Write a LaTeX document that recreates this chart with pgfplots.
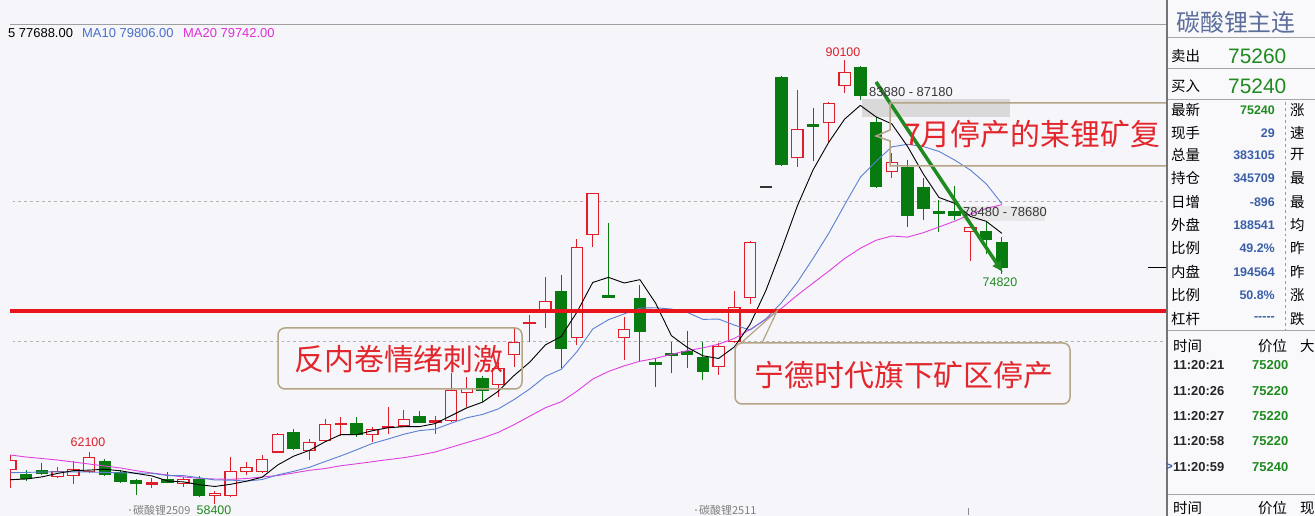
\documentclass[border=0pt]{standalone}
\usepackage{fontspec}
\setmainfont{Liberation Sans}
\newfontfamily\cjk{Noto Sans CJK SC}
\usepackage{pgfplots}
\pgfplotsset{compat=1.18}
\usepackage{pgfplotstable}
\usetikzlibrary{arrows.meta}

\definecolor{bg}{HTML}{F5F5FA}
\definecolor{cred}{HTML}{DE1E28}
\definecolor{cgreen}{HTML}{077A10}
\definecolor{mablue}{HTML}{5B7FD1}
\definecolor{mamag}{HTML}{E040E0}
\definecolor{hblue}{HTML}{4A70C8}
\definecolor{hmag}{HTML}{E02ED8}
\definecolor{redline}{HTML}{E8141C}
\definecolor{arrowg}{HTML}{1F8A1F}
\definecolor{boxc}{HTML}{B3A585}
\definecolor{annred}{HTML}{E3262B}
\definecolor{numblue}{HTML}{3A5FA8}
\definecolor{pgreen}{HTML}{1F8A1F}
\definecolor{ttl}{HTML}{5C6E9C}
\newcommand\fs[1]{\fontsize{#1}{#1}\selectfont}

% candles: i open high low close
\pgfplotstableread{
i o h l c
0 60793 61864 59508 61507
3 60315 61029 60200 60743
4 60386 61436 59793 60843
5 60672 62100 60579 61700
11 59772 60315 59601 60129
13 58937 59294 58400 59172
14 58958 61700 58901 60743
15 60672 61386 60436 60986
16 60672 61864 60579 61557
17 62029 63400 62000 63342
19 62171 63007 61507 62814
20 62864 64413 62793 64057
23 63292 63886 62814 63700
25 63886 65057 63828 64413
28 64313 67719 64255 66505
29 66270 67455 65300 66670
31 66862 68525 66026 68054
32 69004 71026 68169 69954
34 71981 74595 70911 72882
36 70196 77265 69718 76737
37 77574 80571 76737 80550
39 70196 71740 68647 70861
45 68169 69861 67576 69669
46 69911 73595 69861 72410
47 73052 77144 72645 77094
50 83048 87925 82449 85119
52 85590 87090 84234 86975
53 88211 90100 87732 89232
56 82049 83405 81621 82805
61 77807 78179 75737 78122
}\redhollow
\pgfplotstableread{
i o h l c
9 59722 60222 59508 59958
21 64001 64599 63221 64141
24 63770 65256 63364 63910
27 64172 64649 63364 64363
33 71196 71860 69954 71336
}\redsolid
\pgfplotstableread{
i o h l c
1 60486 60793 59988 60129
2 60793 61315 60436 60507
6 61436 61579 60365 60436
7 60672 60793 59865 59958
8 60079 60151 59008 59793
10 60151 60672 59830 59887
12 60129 60365 58865 58937
18 63527 63720 62200 62271
22 64122 64577 63150 63292
26 64649 65006 64114 64172
30 67340 67505 65670 66455
35 73595 74716 68054 69432
38 73300 78450 73090 73090
40 73052 74002 68525 70624
41 68525 68790 66741 68290
42 69150 69954 67698 68950
43 69311 70740 68054 69004
44 68883 69954 67219 67812
49 88832 88900 82500 82570
51 85497 86618 82877 85305
54 89589 89650 87211 87497
55 85662 86019 80950 81021
57 82449 82927 78165 78950
58 81021 81621 78643 79407
59 79286 80071 77807 79071
60 79307 81092 78643 78929
62 77858 78523 76209 77216
63 77051 77452 74820 75240
}\greens
\pgfplotstableread{
i m5 m10 m20
0 60100 60600 61864
1 60150 60620 61721
2 60300 60650 61614
3 60550 60660 61507
4 60746 60660 61364
5 60784 60650 61221
6 60846 60620 61079
7 60736 60590 60936
8 60546 60570 60743
9 60369 60557 60579
10 60006 60395 60436
11 59945 60395 60293
12 59741 60238 60200
13 59617 60081 60150
14 59774 60071 60129
15 59993 60000 60186
16 60279 60112 60293
17 61160 60450 60400
18 61780 60698 60580
19 62194 60984 60771
20 62808 61401 60898
21 63325 61800 61098
22 63311 62236 61237
23 63597 62688 61385
24 63811 63003 61537
25 63883 63345 61673
26 63893 63607 61859
27 64107 63709 62080
28 64668 64132 62415
29 65230 64521 62752
30 65638 64761 63081
31 66415 65154 63477
32 67533 65820 64028
33 68494 66581 64635
34 69731 67481 65242
35 70327 67983 65664
36 72063 69239 66423
37 74182 70858 67283
38 74549 71522 67827
39 74145 71938 68229
40 74383 72355 68558
41 72694 72379 68766
42 70385 72284 69052
43 69557 72053 69317
44 68947 71546 69513
45 68756 71570 69776
46 69580 71137 70188
47 71198 70791 70825
48 73601 71579 71550
49 76553 72750 72344
50 79643 74199 73277
51 82222 75901 74140
52 84198 77698 74991
53 85840 79721 75887
54 86826 81689 76618
55 86006 82825 77197
56 85506 83864 77500
57 83901 84050 77420
58 81936 83888 77734
59 80251 83538 78144
60 79832 82919 78559
61 78896 82201 79051
62 78549 81225 79462
63 77688 79806 79742
}\ma

\pgfplotsset{
  bar/.style 2 args={draw=none, mark=none, forget plot,
    error bars/.cd, y dir=plus, y explicit, error mark=none,
    error bar style={draw=#1, line width=#2, solid}},
}

\begin{document}
\begin{tikzpicture}[x=1bp,y=1bp]
\useasboundingbox (0,0) rectangle (1315,516);
\fill[bg] (0,0) rectangle (1315,516);

\begin{scope}[xshift=10bp]
\begin{axis}[
  at={(0bp,0bp)}, anchor=south west,
  width=1156bp, height=491bp, scale only axis,
  xmin=-0.02, xmax=73.42, ymin=57509, ymax=92566,
  hide axis, clip=true,
]
% range bands
\addplot[draw=none, fill=black!15, forget plot] coordinates
  {(54.11,85997) (63.51,85997) (63.51,87283) (54.11,87283)} -- cycle;
\addplot[draw=none, fill=black!9, forget plot] coordinates
  {(60.46,78572) (65.73,78572) (65.73,79643) (60.46,79643)} -- cycle;
% dashed grid
\addplot[black!30, dashed, line width=0.7bp, forget plot] coordinates {(-1,80000) (75,80000)};
\addplot[black!30, dashed, line width=0.7bp, forget plot] coordinates {(-1,70000) (75,70000)};

% wicks
\addplot[bar={cred}{1bp}] table[x=i, y=l, y error plus expr=\thisrow{h}-\thisrow{l}] {\redhollow};
\addplot[bar={cred}{1bp}] table[x=i, y=l, y error plus expr=\thisrow{h}-\thisrow{l}] {\redsolid};
\addplot[bar={cgreen}{1bp}] table[x=i, y=l, y error plus expr=\thisrow{h}-\thisrow{l}] {\greens};
% bodies
\addplot[bar={cgreen}{12.5bp}] table[x=i, y=c, y error plus expr=\thisrow{o}-\thisrow{c}] {\greens};
\addplot[bar={cred}{12.5bp}] table[x=i, y=o, y error plus expr=\thisrow{c}-\thisrow{o}] {\redsolid};
\addplot[bar={cred}{12.5bp}] table[x=i, y=o, y error plus expr=\thisrow{c}-\thisrow{o}] {\redhollow};
\addplot[bar={bg}{10bp}] table[x=i, y expr=\thisrow{o}+85, y error plus expr=\thisrow{c}-\thisrow{o}-170] {\redhollow};
% limit day, flat bar
\addplot[bar={black!80}{12.5bp}] coordinates {(48,80952) +- (0,140)};

% moving averages
\addplot[mamag, line width=0.9bp, line join=round] table[x=i, y=m20] {\ma};
\addplot[mablue, line width=0.9bp, line join=round] table[x=i, y=m10] {\ma};
\addplot[black, line width=0.9bp, line join=round] table[x=i, y=m5] {\ma};

% red level line
\addplot[redline, line width=4.5bp] coordinates {(-1,72150) (75,72150)};
% price marker
\addplot[black, line width=1bp] coordinates {(72.25,75240) (73.4,75240)};
% downtrend arrow
\addplot[arrowg, line width=3.5bp, -{Latex[length=11bp,width=11bp]}] coordinates {(55.0,88500) (63.05,74900)};
\end{axis}
\end{scope}

\begin{scope}[shift={(0,516)}, y=-1bp]
\draw[gray!75, line width=0.8bp] (10,24) -- (1166,24);
% value labels
\node[font=\fs{12.5}, text=cred, inner sep=0] at (843,52) {90100};
\node[font=\fs{12.5}, text=cred, inner sep=0] at (88,442) {62100};
\node[font=\fs{12.5}, text=pgreen, inner sep=0] at (214,510) {58400};
\node[font=\fs{12.5}, text=pgreen, inner sep=0] at (1000,282) {74820};
\node[font=\fs{13}, text=black!78, inner sep=0, anchor=west] at (869,92) {83880 - 87180};
\node[font=\fs{13}, text=black!78, inner sep=0, anchor=west] at (963,212) {78480 - 78680};
\node[font=\cjk\fs{11}, text=black!50, inner sep=0, anchor=west] at (133,510) {碳酸锂2509};
\node[font=\cjk\fs{11}, text=black!50, inner sep=0, anchor=west] at (699,510) {碳酸锂2511};
\fill[black!50] (130,510) circle (0.8);
\fill[black!50] (696,510) circle (0.8);
\draw[black!45, line width=0.8bp] (968,508) -- (968,515);

% header
\node[font=\fs{13}, inner sep=0, anchor=west] at (8,33) {5 77688.00};
\node[font=\fs{13}, text=hblue, inner sep=0, anchor=west] at (82,33) {MA10 79806.00};
\node[font=\fs{13}, text=hmag, inner sep=0, anchor=west] at (183,33) {MA20 79742.00};

% annotation boxes
\draw[boxc, line width=1.5bp, rounded corners=7bp] (278,328) rectangle (522,389);
\node[font=\cjk\fs{30}, text=annred, inner sep=0] at (399,359) {反内卷情绪刺激};
\draw[boxc, line width=1.5bp, rounded corners=7bp] (735,343) rectangle (1070,404);
\draw[boxc, line width=1.2bp] (741,343) -- (777,311) -- (762,343);
\node[font=\cjk\fs{30}, text=annred, inner sep=0] at (904,375) {宁德时代旗下矿区停产};
\draw[boxc, line width=1.5bp] (1175,103) -- (890,103) -- (890,130) -- (876,136) -- (890,141) -- (890,166) -- (1175,166);
\node[font=\cjk\fs{30}, text=annred, inner sep=0, anchor=west] at (904,134) {7月停产的某锂矿复};

% right panel
\fill[bg!60!white] (1166,0) rectangle (1315,516);
\draw[black!55, line width=1.8bp] (1167,0) -- (1167,516);
\node[font=\cjk\fs{24}, text=ttl, inner sep=0] at (1236,22) {碳酸锂主连};
\foreach \yy in {38,69,100,331,495} \draw[black!35, line width=1bp] (1168,\yy) -- (1315,\yy);
\node[font=\cjk\fs{14.5}, inner sep=0, anchor=west] at (1171,56) {卖出};
\node[font=\fs{21}, text=pgreen, inner sep=0, anchor=west] at (1228,56) {75260};
\node[font=\cjk\fs{14.5}, inner sep=0, anchor=west] at (1171,86) {买入};
\node[font=\fs{21}, text=pgreen, inner sep=0, anchor=west] at (1228,86) {75240};
\draw[black!40, dashed, line width=0.7bp] (1285,102) -- (1285,330);
\foreach \yy/\lab/\val/\rl in {
  133/现手/29/速, 155/总量/383105/开, 178/持仓/345709/最, 202/日增/-896/最,
  225/外盘/188541/均, 248/比例/49.2\%/昨, 272/内盘/194564/昨, 295/比例/50.8\%/涨}{
  \node[font=\cjk\fs{14.5}, inner sep=0, anchor=west] at (1171,\yy) {\lab};
  \node[font=\bfseries\fs{12.5}, text=numblue, inner sep=0, anchor=east] at (1275,\yy) {\val};
  \node[font=\cjk\fs{14.5}, inner sep=0, anchor=west] at (1290,\yy) {\rl};
}
\node[font=\cjk\fs{14.5}, inner sep=0, anchor=west] at (1171,319) {杠杆};
\node[font=\bfseries\fs{12.5}, text=numblue, inner sep=0, anchor=east] at (1275,319) {-{}-{}-{}-{}-};
\node[font=\cjk\fs{14.5}, inner sep=0, anchor=west] at (1290,319) {跌};
\node[font=\cjk\fs{14.5}, inner sep=0, anchor=west] at (1171,110) {最新};
\node[font=\bfseries\fs{12.5}, text=pgreen, inner sep=0, anchor=east] at (1275,110) {75240};
\node[font=\cjk\fs{14.5}, inner sep=0, anchor=west] at (1290,110) {涨};
\node[font=\cjk\fs{14.5}, inner sep=0, anchor=west] at (1173,346) {时间};
\node[font=\cjk\fs{14.5}, inner sep=0, anchor=west] at (1258,346) {价位};
\node[font=\cjk\fs{14.5}, inner sep=0, anchor=west] at (1300,346) {大};
\foreach \yy/\tm/\pr in {365/11:20:21/75200, 391/11:20:26/75220, 416/11:20:27/75220, 441/11:20:58/75220, 467/11:20:59/75240}{
  \node[font=\bfseries\fs{13}, text=black!85, inner sep=0, anchor=west] at (1173,\yy) {\tm};
  \node[font=\bfseries\fs{13}, text=pgreen, inner sep=0, anchor=west] at (1252,\yy) {\pr};
}
\node[font=\bfseries\fs{12}, text=numblue, inner sep=0, anchor=east] at (1173,467) {>};
\node[font=\cjk\fs{14.5}, inner sep=0, anchor=west] at (1173,508) {时间};
\node[font=\cjk\fs{14.5}, inner sep=0, anchor=west] at (1258,508) {价位};
\node[font=\cjk\fs{14.5}, inner sep=0, anchor=west] at (1300,508) {现};
\end{scope}
\end{tikzpicture}
\end{document}
